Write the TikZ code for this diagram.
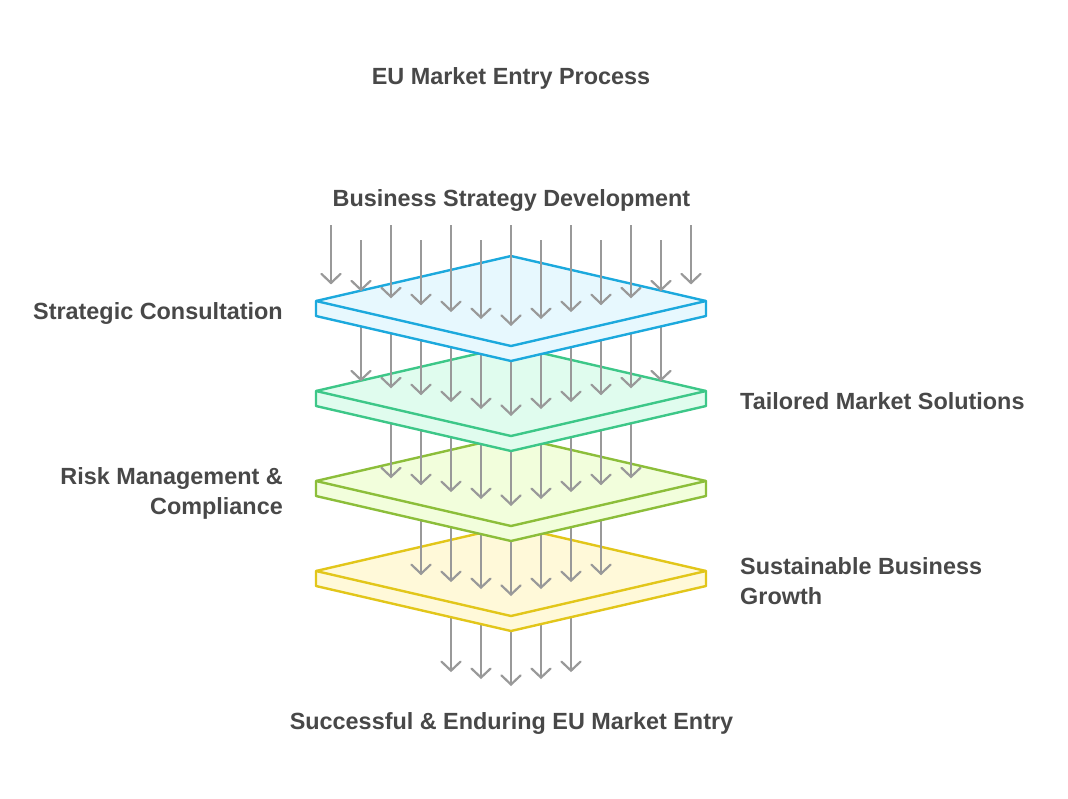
\documentclass[tikz,border=0pt]{standalone}
\usepackage{fontspec}
\setmainfont{Liberation Sans}
\usetikzlibrary{arrows.meta}
\definecolor{txt}{HTML}{484848}
\definecolor{arr}{HTML}{999999}
\definecolor{blueS}{HTML}{1CA9DD}
\definecolor{blueF}{HTML}{E7F8FE}
\definecolor{greenS}{HTML}{3DC788}
\definecolor{greenF}{HTML}{E0FCEE}
\definecolor{oliveS}{HTML}{8CBE3A}
\definecolor{oliveF}{HTML}{F2FEDC}
\definecolor{yellowS}{HTML}{E2C61A}
\definecolor{yellowF}{HTML}{FFF9D9}
\tikzset{
  lbl/.style={inner sep=0pt, text=txt, font=\bfseries\fontsize{23.4}{30}\selectfont},
  flow/.style={draw=arr, line width=2.2pt, -{Straight Barb[length=9pt,width=19pt,line cap=round]}},
  slabedge/.style={line width=2.4pt, line join=round}
}
\newcommand\slab[3]{%
  \path[fill=#3] (316,#1) -- (511,#1-45) -- (706,#1) -- (706,#1+15) -- (511,#1+60) -- (316,#1+15) -- cycle;
  \draw[slabedge, draw=#2] (316,#1) -- (511,#1-45) -- (706,#1) -- (706,#1+15) -- (511,#1+60) -- (316,#1+15) -- cycle;
  \draw[slabedge, draw=#2] (316,#1) -- (511,#1+45) -- (706,#1);
}
% arrows landing on a level with centre #1, half count #2, group name #3
\newcommand\flowset[3]{%
  \foreach \j in {-#2,...,#2}{
    \pgfmathsetmacro\xx{511+30*\j}
    \pgfmathsetmacro\yt{#1+45*(1-abs(30*\j)/195)-20}
    \coordinate (#3s\j) at (\xx,#1-90);
    \coordinate (#3t\j) at (\xx,\yt);
    \draw[flow] (#3s\j) -- (#3t\j);
  }
}
\begin{document}
\begin{tikzpicture}[x=1pt,y=-1pt]
\useasboundingbox[fill=white] (0,0) rectangle (1068,798);
% bottom output arrows
\flowset{661}{2}{e}
\slab{571}{yellowS}{yellowF}
\flowset{571}{3}{d}
\slab{481}{oliveS}{oliveF}
\flowset{481}{4}{c}
\slab{391}{greenS}{greenF}
\flowset{391}{5}{b}
\slab{301}{blueS}{blueF}
% top input arrows
\foreach \k in {0,...,12}{
  \pgfmathsetmacro\xx{331+30*\k}
  \pgfmathsetmacro\ys{mod(\k,2)==0 ? 225 : 240}
  \pgfmathsetmacro\yt{301+45*(1-abs(\xx-511)/195)-20}
  \coordinate (as\k) at (\xx,\ys);
  \coordinate (at\k) at (\xx,\yt);
  \draw[flow] (as\k) -- (at\k);
}
% labels
\node[lbl, anchor=base] (title) at (511,84) {EU Market Entry Process};
\node[lbl, anchor=base] (input) at (511.5,206) {Business Strategy Development};
\node[lbl, anchor=base east] (l1) at (283,319) {Strategic Consultation};
\node[lbl, anchor=base west] (l2) at (740,409) {Tailored Market Solutions};
\node[lbl, anchor=base east, align=right] (l3) at (283,514) {Risk Management \&\\Compliance};
\node[lbl, anchor=base west, align=left] (l4) at (740,604) {Sustainable Business\\Growth};
\node[lbl, anchor=base] (output) at (511.5,729) {Successful \& Enduring EU Market Entry};
\end{tikzpicture}
\end{document}
